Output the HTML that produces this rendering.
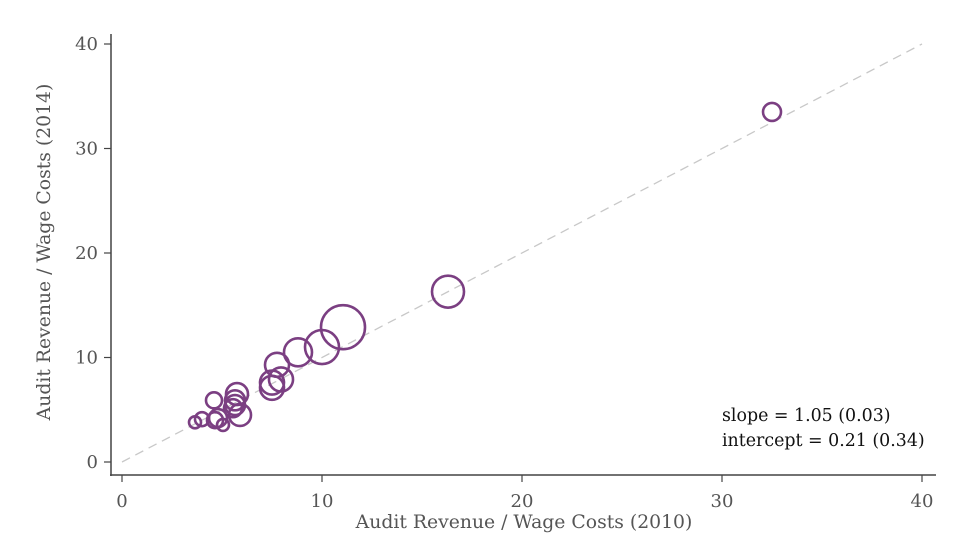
<!DOCTYPE html>
<html><head><meta charset="utf-8"><style>
body{margin:0;background:#fff}
svg text{font-family:"DejaVu Serif","Liberation Serif",serif;fill:#555}
</style></head><body>
<svg id="c" width="966" height="546"></svg>
<script>
const xs=[32.5,16.3,11.05,10.0,8.8,7.75,7.95,7.5,7.5,5.75,5.65,5.65,5.55,5.9,4.6,4.8,4.65,5.05,4.0,3.65];
const ys=[33.5,16.3,12.9,11.0,10.5,9.3,7.9,7.6,7.1,6.5,5.9,5.45,5.15,4.5,5.9,4.2,4.0,3.55,4.1,3.8];
const sizes=[9,16,22,17,14,12,12,12,12,11,10,10,9,11,8,9,8,6,7,6];
const xTicks=[0,10,20,30,40];
const yTicks=[0,10,20,30,40];
const ns="http://www.w3.org/2000/svg";
const svg=document.getElementById('c');
const X=v=>122+v*20, Y=v=>462-v*10.45;
function mk(t,a,p){const e=document.createElementNS(ns,t);for(const k in a)e.setAttribute(k,a[k]);(p||svg).appendChild(e);return e;}
let l=mk('line',{x1:X(0),y1:Y(0),x2:X(40),y2:Y(40),stroke:'#c8c8c8','stroke-width':1.3,'stroke-dasharray':'9,6'});


let a=mk('line',{x1:111,y1:34,x2:111,y2:476,stroke:'#444','stroke-width':1.5});


a=mk('line',{x1:110,y1:475,x2:936,y2:475,stroke:'#444','stroke-width':1.5});


xTicks.forEach(v=>{
 mk('line',{x1:X(v),y1:475,x2:X(v),y2:482,stroke:'#444','stroke-width':1.2});
 const t=mk('text',{x:X(v),y:507,'text-anchor':'middle','font-size':18});t.textContent=v;
 
 
});
yTicks.forEach(v=>{
 mk('line',{x1:104,y1:Y(v),x2:111,y2:Y(v),stroke:'#444','stroke-width':1.2});
 const t=mk('text',{x:98,y:Y(v)+6,'text-anchor':'end','font-size':18});t.textContent=v;
 
 
});
xs.forEach((v,i)=>{
 const c=mk('circle',{cx:X(v),cy:Y(ys[i]),r:sizes[i],fill:'none',stroke:'#7b3f82','stroke-width':2.6});
 
 
});
let t=mk('text',{x:524,y:528,'text-anchor':'middle','font-size':18.8});t.textContent='Audit Revenue / Wage Costs (2010)';


t=mk('text',{x:0,y:0,'text-anchor':'middle','font-size':18.8,transform:'translate(50,252) rotate(-90)'});t.textContent='Audit Revenue / Wage Costs (2014)';


t=mk('text',{x:722,y:421,'font-size':17.4,style:'fill:#111'});t.textContent='slope = 1.05 (0.03)';


t=mk('text',{x:722,y:446,'font-size':17.4,style:'fill:#111'});t.textContent='intercept = 0.21 (0.34)';


</script>
</body></html>
